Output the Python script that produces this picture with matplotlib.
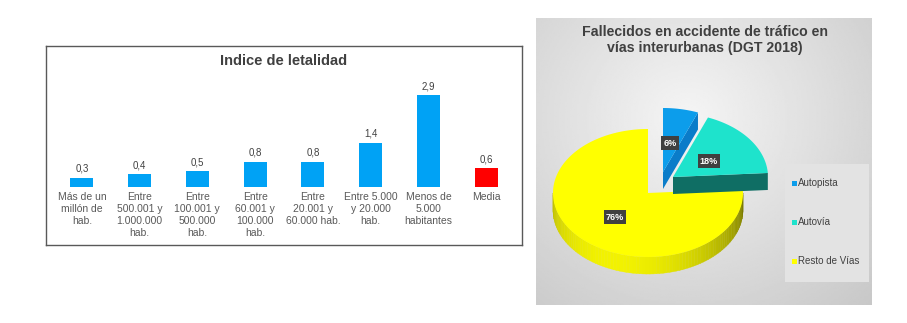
import numpy as np
import matplotlib.pyplot as plt
from matplotlib.patches import Polygon, Rectangle

plt.rcParams['font.family'] = ['Liberation Sans', 'DejaVu Sans']

# Indice de letalidad por tamaño de municipio
categorias = ["Más de un\nmillón de\nhab.", "Entre\n500.001 y\n1.000.000\nhab.",
              "Entre\n100.001 y\n500.000\nhab.", "Entre\n60.001 y\n100.000\nhab.",
              "Entre\n20.001 y\n60.000 hab.", "Entre 5.000\ny 20.000\nhab.",
              "Menos de\n5.000\nhabitantes", "Media"]
letalidad = [0.3, 0.4, 0.5, 0.8, 0.8, 1.4, 2.9, 0.6]

# Fallecidos en vías interurbanas (DGT 2018)
tipos_via = ["Autopista", "Autovía", "Resto de Vías"]
fallecidos_pct = [6, 18, 76]

W, H = 907, 323
fig = plt.figure(figsize=(W / 100, H / 100), dpi=100)

# ---- bar chart ----
x0, x1, y0, y1 = 46, 522, 46, 245
ax = fig.add_axes([x0 / W, 1 - y1 / H, (x1 - x0) / W, (y1 - y0) / H])
colores = ['#00A2F5'] * (len(letalidad) - 1) + ['#FF0000']
xs = np.arange(len(letalidad))
ax.bar(xs, letalidad, width=0.4, color=colores)
ax.set_xlim(-0.62, 7.62)
ax.set_ylim(-1.83, 4.45)
ax.set_xticks([])
ax.set_yticks([])
for s in ax.spines.values():
    s.set_color('#595959')
    s.set_linewidth(1.0)
for x, v, c in zip(xs, letalidad, categorias):
    ax.text(x, v + 0.12, f"{v:.1f}".replace('.', ','), ha='center', va='bottom',
            fontsize=7, color='#404040')
    ax.text(x, -0.15, c, ha='center', va='top', fontsize=7.5, color='#595959',
            linespacing=1.28)
ax.text(0.5, 0.925, "Indice de letalidad", transform=ax.transAxes, ha='center',
        va='center', fontsize=10.5, fontweight='bold', color='#404040')

# ---- 3D-style pie ----
px0, px1, py0, py1 = 536, 872, 18, 305
ax2 = fig.add_axes([px0 / W, 1 - py1 / H, (px1 - px0) / W, (py1 - py0) / H])
ax2.set_xlim(px0, px1)
ax2.set_ylim(py1, py0)
ax2.axis('off')

# soft gray background
gx, gy = np.meshgrid(np.linspace(0, 1, 200), np.linspace(0, 1, 200))
r = np.sqrt((gx - 0.45) ** 2 + ((gy - 0.35) * 0.9) ** 2)
bg = np.clip(0.96 - 0.22 * r, 0.78, 0.96)
ax2.imshow(bg, cmap='gray', vmin=0, vmax=1, extent=(px0, px1, py1, py0),
           aspect='auto', zorder=0)

rx, ry, depth = 95, 64, 17
centros = [(663, 172), (673, 177), (648, 193)]
top_col = ['#0C9DEB', '#1EE3CC', '#FFFF00']
wall_col = ['#0A7CC9', '#0F6E64', None]


def arc(cx, cy, t):
    return cx + rx * np.cos(t), cy - ry * np.sin(t)


angles = np.deg2rad(90 - np.cumsum([0] + fallecidos_pct) * 3.6)
zorders = [3, 2, 1]
for i, (cx, cy) in enumerate(centros):
    a0, a1 = angles[i], angles[i + 1]
    t = np.linspace(a0, a1, 200)
    ex, ey = arc(cx, cy, t)
    z = zorders[i]
    if wall_col[i] is not None:
        # side face along the slice's closing edge
        ox, oy = arc(cx, cy, a1)
        ax2.add_patch(Polygon([(cx, cy), (ox, oy), (ox, oy + depth), (cx, cy + depth)],
                              closed=True, color=wall_col[i], zorder=z, lw=0))
    else:
        # outer rim, front half only, shaded
        tt = np.linspace(np.pi, 2 * np.pi, 90)
        for k in range(len(tt) - 1):
            ta, tb = tt[k], tt[k + 1]
            xa, ya = arc(cx, cy, ta)
            xb, yb = arc(cx, cy, tb)
            f = 0.6 + 0.35 * np.cos(tb - np.deg2rad(250))
            ax2.add_patch(Polygon([(xa, ya), (xb, yb), (xb, yb + depth), (xa, ya + depth)],
                                  closed=True, color=(f, f, 0), zorder=z, lw=0.3))
    pts = [(cx, cy)] + list(zip(ex, ey))
    ax2.add_patch(Polygon(pts, closed=True, color=top_col[i], zorder=z + 0.5, lw=0))

etiquetas_pos = [(670, 143), (709, 161), (615, 217)]
for (lx, ly), p in zip(etiquetas_pos, fallecidos_pct):
    ax2.text(lx, ly, f"{p}%", ha='center', va='center', fontsize=6.5, fontweight='bold',
             color='white', zorder=10,
             bbox=dict(boxstyle='square,pad=0.25', fc='#404040', ec='none'))

ax2.text(705, 40, "Fallecidos en accidente de tráfico en\nvías interurbanas (DGT 2018)",
         ha='center', va='center', fontsize=10.2, fontweight='bold', color='#404040',
         linespacing=1.2, zorder=10)

# legend
ax2.add_patch(Rectangle((785, 164), 84, 118, color='#E3E3E3', zorder=5, lw=0))
for (yl, nombre, c) in zip([183, 222, 261], tipos_via, top_col):
    ax2.add_patch(Rectangle((791.5, yl - 2.5), 5, 5, color=c, zorder=6, lw=0))
    ax2.text(798, yl, nombre, ha='left', va='center', fontsize=7, color='#404040', zorder=6)

fig.savefig("out.png", dpi=100)
